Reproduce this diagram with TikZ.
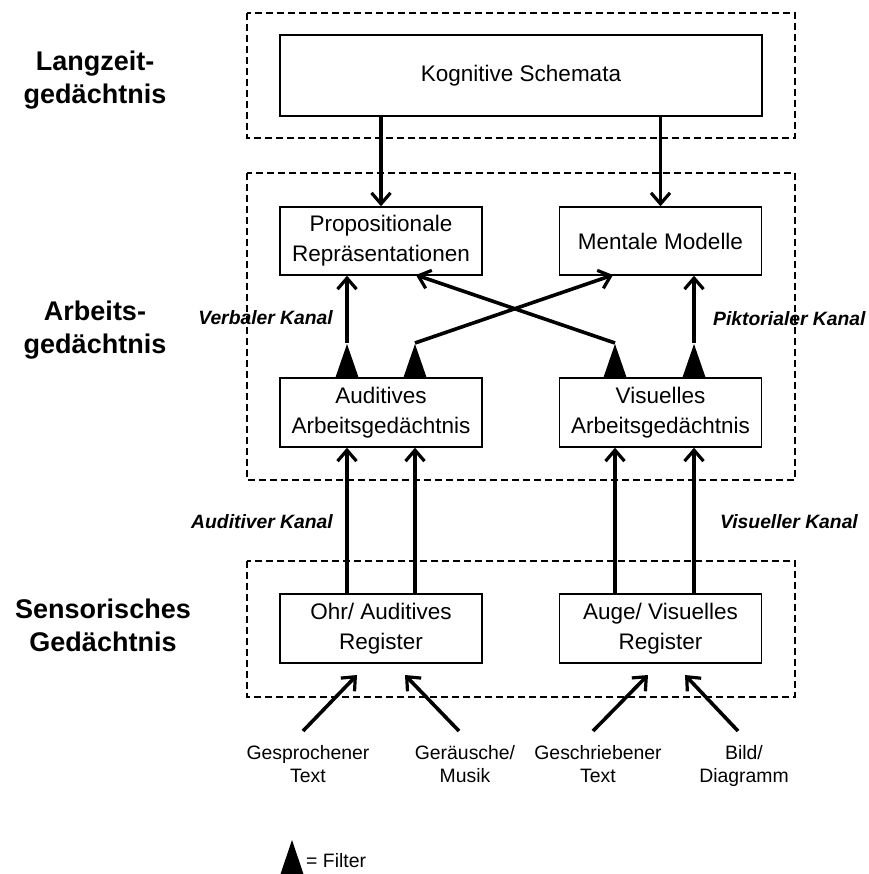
\documentclass[tikz,border=0pt]{standalone}
\usepackage{fontspec}
\setmainfont{Liberation Sans}
\usetikzlibrary{arrows.meta}
\tikzset{
  memregion/.style={draw, line width=2.2pt, dash pattern=on 7pt off 4pt},
  membox/.style={draw, line width=1.4pt, fill=white, minimum width=202pt, align=center, font=\fontsize{22.5}{30}\selectfont, inner sep=0pt},
  flow/.style={line width=3.6pt, -{Straight Barb[length=11pt,width=19pt,line width=3.2pt]}},
  filtertri/.style={fill=black},
  sectionlabel/.style={align=center, font=\fontsize{27}{33}\selectfont\bfseries},
  channellabel/.style={font=\fontsize{19.3}{23}\selectfont\bfseries\itshape, inner sep=0pt},
  inputlabel/.style={align=center, font=\fontsize{19.4}{23}\selectfont, inner sep=0pt}
}
\begin{document}
\begin{tikzpicture}[x=1pt,y=-1pt]
\useasboundingbox (0,0) rectangle (868,874);
% regions
\draw[memregion] (247,13) rectangle (795,138);
\draw[memregion] (247,173) rectangle (795,480);
\draw[memregion] (247,561) rectangle (795,697);
% section labels
\node[sectionlabel] (lz) at (95,80) {Langzeit-\\gedächtnis};
\node[sectionlabel] (ag) at (95,330) {Arbeits-\\gedächtnis};
\node[sectionlabel] (sg) at (103,625) {Sensorisches\\Gedächtnis};
% boxes
\node[membox, minimum width=482pt, minimum height=81pt] (kog) at (521,75.5) {Kognitive Schemata};
\node[membox, minimum height=68pt] (prop) at (381,241) {Propositionale\\Repräsentationen};
\node[membox, minimum height=68pt] (ment) at (660.5,241) {Mentale Modelle};
\node[membox, minimum height=69pt] (aud) at (381,412.5) {Auditives\\Arbeitsgedächtnis};
\node[membox, minimum height=69pt] (vis) at (660.5,412.5) {Visuelles\\Arbeitsgedächtnis};
\node[membox, minimum height=69pt] (ohr) at (381,628.5) {Ohr/ Auditives\\Register};
\node[membox, minimum height=69pt] (auge) at (660.5,628.5) {Auge/ Visuelles\\Register};
% long-term to working memory
\draw[flow] (prop.north |- kog.south) -- (prop.north);
\draw[flow] (ment.north |- kog.south) -- (ment.north);
% filter points
\coordinate (f1) at (347,343);
\coordinate (f2) at (415,343);
\coordinate (f3) at (615,343);
\coordinate (f4) at (694,343);
\coordinate (pin) at (416,275);
\coordinate (min) at (613,275);
\foreach \f in {f1,f2,f3,f4}{
  \fill[filtertri] ([xshift=-11.5pt]\f |- aud.north) -- ([yshift=-1pt]\f) -- ([xshift=11.5pt]\f |- aud.north) -- cycle;
}
\draw[flow] (f1) -- (f1 |- prop.south);
\draw[flow] (f4) -- (f4 |- ment.south);
\draw[flow] (f2) -- (min);
\draw[flow] (f3) -- (pin);
% sensory to working memory
\draw[flow] (f1 |- ohr.north) -- (f1 |- aud.south);
\draw[flow] (f2 |- ohr.north) -- (f2 |- aud.south);
\draw[flow] (f3 |- auge.north) -- (f3 |- vis.south);
\draw[flow] (f4 |- auge.north) -- (f4 |- vis.south);
% channel labels
\node[channellabel, anchor=east] (vk) at (333,318) {Verbaler Kanal};
\node[channellabel, anchor=west] (pk) at (713,319) {Piktorialer Kanal};
\node[channellabel, anchor=east] (ak) at (333,522) {Auditiver Kanal};
\node[channellabel, anchor=west] (vsk) at (720,522) {Visueller Kanal};
% inputs
\node[inputlabel] (gsp) at (308,764) {Gesprochener\\Text};
\node[inputlabel] (ger) at (465,764) {Geräusche/\\Musik};
\node[inputlabel] (gsc) at (598,764) {Geschriebener\\Text};
\node[inputlabel] (bild) at (744,766) {Bild/\\Diagramm};
\coordinate (t1) at (303,731);
\coordinate (t2) at (459,731);
\coordinate (t3) at (593,731);
\coordinate (t4) at (738,731);
\coordinate (h1) at (357,675);
\coordinate (h2) at (405,675);
\coordinate (h3) at (648,675);
\coordinate (h4) at (685,675);
\draw[flow] (t1) -- (h1);
\draw[flow] (t2) -- (h2);
\draw[flow] (t3) -- (h3);
\draw[flow] (t4) -- (h4);
% legend
\fill[filtertri] (280.5,874) -- (292,840) -- (303.5,874) -- cycle;
\node[inputlabel, anchor=west] (leg) at (306,861) {= Filter};
\end{tikzpicture}
\end{document}
